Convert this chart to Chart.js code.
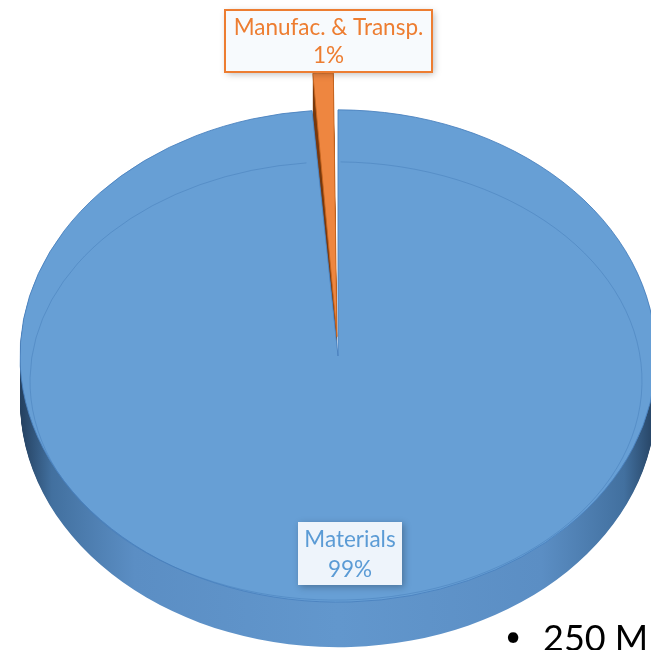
<!DOCTYPE html>
<html lang="en">
<head>
  <meta charset="UTF-8" />
  <title>Materials vs Manufacturing</title>
  <script src="https://cdn.jsdelivr.net/npm/chart.js"></script>
  <style>
    body { margin: 0; background: #fff; font-family: Lato, sans-serif; }
    .wrap { position: relative; width: 651px; height: 650px; overflow: hidden; }
    .bullet { position: absolute; left: 505px; top: 619px; font-size: 28px; line-height: 32px; color: #000; }
    .slide-text { position: absolute; left: 543px; top: 617px; font-size: 36px; line-height: 40px; color: #000; white-space: nowrap; }
  </style>
</head>
<body>
  <div class="wrap">
    <canvas id="pie"></canvas>
    <span class="bullet">•</span>
    <span class="slide-text">250 M</span>
  </div>

  <script>
    // data
    const categories = ['Materials', 'Manufac. & Transp.'];
    const shares = [98.7, 1.3];
    const explode = [0, 100];

    const topColors = ['#679fd5', '#ee8640'];
    const edgeColors = ['#4a82bf', '#c9651f'];
    const labelColors = ['#5b9bd5', '#ed7d31'];

    // fake 3D tilt
    const TILT = 0.774;   // vertical squash
    const CENTER_Y = 356; // where the pie centre ends up on screen
    const DEPTH = 45;     // side thickness in px

    function sideFill(ctx, i) {
      if (i === 1) return '#7a3b10';
      const g = ctx.createLinearGradient(20, 0, 656, 0);
      g.addColorStop(0, '#24405f');
      g.addColorStop(0.05, '#42709f');
      g.addColorStop(0.18, '#5b8ec4');
      g.addColorStop(0.5, '#6297cd');
      g.addColorStop(0.82, '#5b8ec4');
      g.addColorStop(0.95, '#42709f');
      g.addColorStop(1, '#24405f');
      return g;
    }

    const tiltPlugin = {
      id: 'tilt',
      beforeDatasetsDraw(chart) {
        const ctx = chart.ctx;
        const arcs = chart.getDatasetMeta(0).data;
        ctx.save();
        ctx.translate(0, CENTER_Y);
        ctx.scale(1, TILT);
        ctx.translate(0, -arcs[0].y);

        // side walls: stack copies of each slice downward
        const ghosts = arcs.map((arc, i) => {
          const g = Object.create(arc);
          const fill = sideFill(ctx, i);
          g.options = Object.assign({}, arc.options, { backgroundColor: fill, borderColor: fill, borderWidth: 0 });
          return g;
        });
        for (let k = DEPTH; k >= 1; k--) {
          ctx.save();
          ctx.translate(0, k / TILT);
          ghosts.forEach(g => g.draw(ctx));
          ctx.restore();
        }
      },
      afterDatasetsDraw(chart) {
        const ctx = chart.ctx;
        ctx.restore();
        // faint bevel line on the big slice
        const arc = chart.getDatasetMeta(0).data[0];
        ctx.save();
        ctx.beginPath();
        ctx.ellipse(arc.x - 2, CENTER_Y + 25, arc.outerRadius - 12, arc.outerRadius * TILT - 27, 0, arc.startAngle + 0.015, arc.endAngle - 0.015);
        ctx.strokeStyle = 'rgba(70,125,185,0.5)';
        ctx.lineWidth = 1;
        ctx.stroke();
        ctx.restore();
      }
    };

    function drawLabel(ctx, lines, cx, top, w, h, color, border, fill, baselines) {
      ctx.save();
      ctx.shadowColor = 'rgba(0,0,0,0.28)';
      ctx.shadowBlur = 7;
      ctx.shadowOffsetX = 2;
      ctx.shadowOffsetY = 2;
      ctx.fillStyle = fill;
      ctx.fillRect(cx - w / 2, top, w, h);
      ctx.restore();
      if (border) {
        ctx.save();
        ctx.strokeStyle = border;
        ctx.lineWidth = 2;
        ctx.strokeRect(cx - w / 2, top, w, h);
        ctx.restore();
      }
      ctx.save();
      ctx.fillStyle = color;
      ctx.font = '22.5px Lato';
      ctx.textAlign = 'center';
      ctx.textBaseline = 'alphabetic';
      lines.forEach((t, i) => ctx.fillText(t, cx, baselines[i]));
      ctx.restore();
    }

    const labelPlugin = {
      id: 'sliceLabels',
      afterDraw(chart) {
        const ctx = chart.ctx;
        const total = shares.reduce((a, b) => a + b, 0);
        const pct = shares.map(v => Math.round(v / total * 100) + '%');
        drawLabel(ctx, [categories[1], pct[1]], 328.5, 10, 207, 62, labelColors[1], labelColors[1], '#f7fafd', [35, 63]);
        drawLabel(ctx, [categories[0], pct[0]], 350, 522, 104, 63, labelColors[0], null, '#eef4fb', [547, 577]);
      }
    };

    new Chart(document.getElementById('pie'), {
      type: 'pie',
      data: {
        labels: categories,
        datasets: [{
          data: shares,
          backgroundColor: topColors,
          borderColor: edgeColors,
          borderWidth: 1,
          offset: explode,
          clip: false
        }]
      },
      options: {
        responsive: true,
        maintainAspectRatio: false,
        animation: false,
        radius: 318,
        rotation: 0,
        layout: { padding: { left: 25, right: 0, top: 0, bottom: 0 } },
        plugins: {
          legend: { display: false },
          tooltip: { enabled: false }
        },
        events: []
      },
      plugins: [tiltPlugin, labelPlugin]
    });
  </script>
</body>
</html>
